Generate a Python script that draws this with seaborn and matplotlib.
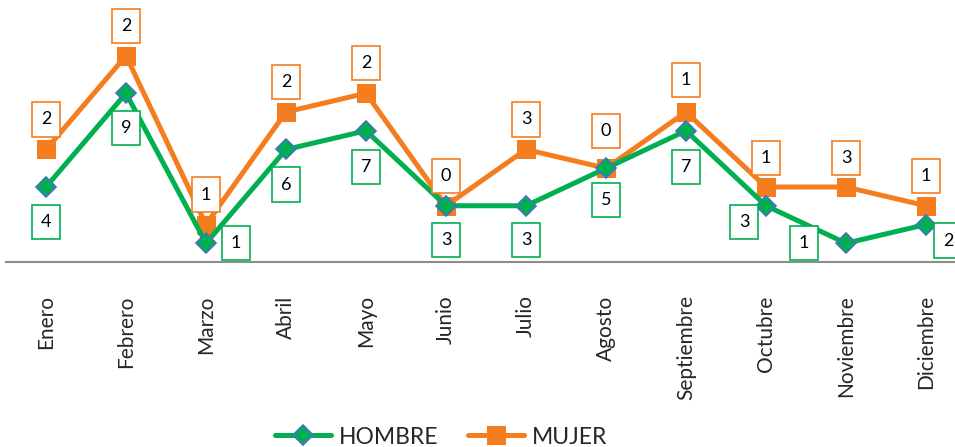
import numpy as np
import pandas as pd
import matplotlib
matplotlib.use("Agg")
import matplotlib.pyplot as plt
import seaborn as sns

months = ["Enero", "Febrero", "Marzo", "Abril", "Mayo", "Junio", "Julio",
          "Agosto", "Septiembre", "Octubre", "Noviembre", "Diciembre"]
hombre = [4, 9, 1, 6, 7, 3, 3, 5, 7, 3, 1, 2]
mujer = [2, 2, 1, 2, 2, 0, 3, 0, 1, 1, 3, 1]

GREEN = "#00B050"
ORANGE = "#F47D20"
EDGE = "#4472C4"

sns.set_theme(style="white")
plt.rcParams['font.family'] = ['Lato', 'DejaVu Sans']

x = np.arange(len(months))
stack_top = np.array(hombre) + np.array(mujer)
df = pd.DataFrame({"x": x, "HOMBRE": hombre, "MUJER": stack_top})

fig = plt.figure(figsize=(9.55, 4.47), dpi=100)
ax = fig.add_axes([6/955, 185/447, 960/955, 262/447])

sns.lineplot(data=df, x="x", y="HOMBRE", ax=ax, color=GREEN, lw=3.6,
             marker="D", markersize=10, markerfacecolor=GREEN,
             markeredgecolor=EDGE, markeredgewidth=1.2, label="HOMBRE", zorder=3)
sns.lineplot(data=df, x="x", y="MUJER", ax=ax, color=ORANGE, lw=3.6,
             marker="s", markersize=13, markerfacecolor=ORANGE,
             markeredgecolor=ORANGE, label="MUJER", zorder=2)

ax.set_xlim(-0.5, 11.5)
ax.set_ylim(0, 262/18.75)

# label offsets (pixels)
h_off = [(0, -35), (0, -35), (30, 0), (0, -35), (0, -36), (0, -34), (0, -34),
         (0, -32), (0, -36), (-22, -16), (-42, 0), (22, -16)]
m_off = [(0, 30), (0, 30), (0, 30), (0, 30), (0, 30), (0, 30), (0, 30),
         (0, 37), (0, 32), (0, 29), (0, 29), (0, 30)]
k = 72/100
for i in range(len(months)):
    ax.annotate(str(hombre[i]), (x[i], hombre[i]),
                xytext=(h_off[i][0]*k, h_off[i][1]*k), textcoords="offset points",
                ha="center", va="center", fontsize=13, color="black",
                bbox=dict(boxstyle="square,pad=0.5", fc="white", ec=GREEN, lw=1.2),
                annotation_clip=False, zorder=5)
    ax.annotate(str(mujer[i]), (x[i], stack_top[i]),
                xytext=(m_off[i][0]*k, m_off[i][1]*k), textcoords="offset points",
                ha="center", va="center", fontsize=13, color="black",
                bbox=dict(boxstyle="square,pad=0.5", fc="white", ec=ORANGE, lw=1.2),
                annotation_clip=False, zorder=5)

ax.set_xticks(x)
ax.set_xticklabels(months, rotation=90, fontsize=15)
ax.tick_params(axis="x", length=0, pad=24)
ax.set_yticks([])
ax.set_xlabel("")
ax.set_ylabel("")
for s in ["top", "right", "left"]:
    ax.spines[s].set_visible(False)
ax.spines["bottom"].set_color("#8C8C8C")
ax.spines["bottom"].set_linewidth(1.5)

ax.legend(loc="center", bbox_to_anchor=(441/955, 10/447), bbox_transform=fig.transFigure,
          ncol=2, frameon=False, fontsize=16.5, handlelength=2.45, columnspacing=1.3,
          handletextpad=0.35)

fig.savefig("out.png", dpi=100)
